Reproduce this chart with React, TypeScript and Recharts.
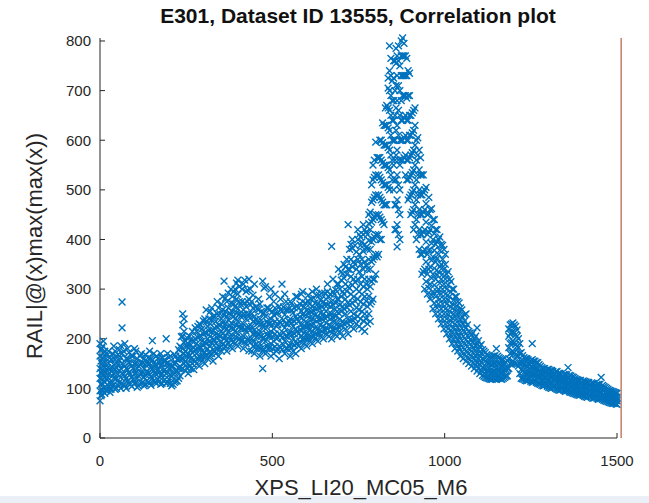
import React from 'react';
import { ScatterChart, Scatter, XAxis, YAxis, ReferenceLine } from 'recharts';

type Col = [number, number[]];

// x position, then the y values stacked at that x
const baseline: Col[] = [
  [0, [75, 95, 120, 140, 165, 190]], [3, [85, 108, 132, 155, 178]], [5, [88, 110, 130, 150, 180]],
  [8, [95, 118, 138, 162, 185]], [10, [100, 125, 145, 170, 195]], [14, [90, 112, 132, 152, 175]],
  [18, [95, 118, 138, 160]], [22, [100, 122, 142, 168]], [25, [105, 128, 150, 175]],
  [29, [92, 112, 140, 162]], [32, [98, 115, 135, 158]], [36, [104, 125, 142, 170]],
  [40, [108, 130, 148, 185]], [44, [98, 118, 138, 158, 175]], [48, [100, 120, 142, 165]],
  [52, [106, 128, 148, 168]], [56, [112, 135, 155, 178]], [60, [100, 122, 140, 162, 186]],
  [64, [110, 130, 150, 170, 222, 274]], [68, [108, 128, 148, 175]], [72, [105, 125, 145, 190]],
  [76, [100, 120, 140, 160]], [80, [115, 138, 160, 180]], [84, [110, 132, 152, 172]],
  [88, [108, 128, 150]], [92, [104, 122, 145, 165]], [96, [118, 140, 165]],
  [100, [110, 130, 150, 180]], [104, [112, 132, 152, 175]], [108, [102, 120, 140, 160]],
  [112, [105, 125, 145]], [116, [108, 128, 148, 165]], [120, [110, 130, 150, 170]],
  [124, [112, 132, 152]], [128, [105, 122, 140, 160]], [132, [108, 128, 148, 168]],
  [136, [115, 135, 155]], [140, [112, 130, 148, 162]], [144, [110, 128, 150, 175]],
  [148, [106, 124, 142, 160]], [152, [120, 140, 158, 196]], [156, [115, 135, 152, 170]],
  [160, [112, 130, 148]], [164, [110, 128, 145, 165]], [168, [118, 138, 160]],
  [172, [114, 132, 152]], [176, [108, 126, 145, 170]], [180, [110, 130, 150, 162]],
  [184, [115, 135, 155]], [188, [118, 138, 158]], [192, [110, 130, 150, 200]],
  [196, [112, 132, 150, 170]], [200, [118, 140, 162]], [204, [110, 128, 148, 165]],
  [208, [105, 125, 145]], [212, [108, 128, 145]], [216, [112, 132, 150, 168]],
  [220, [114, 134, 152, 165]], [224, [115, 135, 158]], [228, [120, 140, 160, 178]],
];

const shoulder: Col[] = [
  [232, [125, 145, 165, 185]], [236, [138, 160, 182, 204]], [240, [140, 160, 180, 205, 228, 250]],
  [244, [150, 170, 192, 215, 240]], [248, [135, 155, 175, 195]], [252, [142, 164, 184, 202]],
  [256, [130, 150, 170, 190]], [260, [145, 165, 185, 205]], [264, [140, 160, 178, 198]],
  [268, [150, 172, 195, 215]], [272, [138, 158, 182]], [276, [155, 178, 200, 222]],
  [280, [150, 170, 190, 215]], [284, [160, 180, 202, 225]], [288, [145, 165, 185, 205, 230]],
  [292, [162, 182, 206, 228]], [296, [155, 175, 195, 220]], [300, [164, 186, 210, 236]],
  [304, [150, 172, 192, 212, 240]], [308, [166, 190, 212, 234, 258]], [312, [160, 180, 200, 225]],
  [316, [172, 194, 216, 240]], [320, [165, 185, 205, 230, 255]], [324, [170, 192, 214, 238, 262]],
  [328, [155, 178, 198, 218, 245]], [332, [176, 198, 222, 246]], [336, [170, 190, 210, 235]],
  [340, [180, 202, 224, 250, 275]], [344, [165, 185, 208, 228, 262]], [348, [182, 204, 226, 250]],
  [352, [175, 195, 215, 240, 270]], [356, [188, 210, 232, 258, 285]], [360, [180, 200, 222, 248, 316]],
  [364, [185, 206, 230, 255, 282]], [368, [175, 198, 220, 245, 275]], [372, [192, 214, 238, 262, 292]],
  [376, [185, 205, 228, 252]], [380, [196, 222, 248, 272, 300]], [384, [180, 205, 230, 255, 285]],
  [388, [194, 220, 245, 270, 295]], [392, [190, 215, 240, 265, 300]], [396, [202, 228, 252, 280, 312]],
  [400, [185, 210, 235, 260, 290, 318]], [404, [200, 225, 250, 275, 305]], [408, [195, 220, 245, 270]],
  [412, [196, 222, 248, 275, 300]], [416, [180, 205, 230, 258, 310]], [420, [194, 220, 248, 272, 318]],
  [424, [190, 215, 240, 265, 295]], [428, [198, 222, 248, 275, 298]], [432, [176, 200, 225, 250, 280, 320]],
  [436, [192, 218, 242, 268, 300]], [440, [175, 200, 225, 250, 275]], [444, [185, 210, 235, 262, 288]],
  [448, [170, 195, 218, 245, 310]], [452, [188, 212, 238, 264]], [456, [180, 205, 230, 260]],
  [460, [182, 208, 232, 258, 280]], [464, [165, 190, 215, 240, 270]], [468, [180, 205, 230, 255]],
  [472, [140, 175, 200, 225, 250, 316]], [476, [178, 202, 228, 252, 302]], [480, [170, 195, 220, 245, 305]],
  [484, [186, 210, 235, 262]], [488, [180, 205, 230, 262]], [492, [182, 206, 230, 258, 285]],
  [496, [165, 190, 215, 240, 300]], [500, [180, 204, 228, 254]], [504, [170, 195, 220, 248, 275]],
  [508, [184, 210, 235, 262, 290]], [512, [175, 200, 225, 250]], [516, [178, 202, 228, 252]],
  [520, [160, 185, 210, 235, 265]], [524, [182, 208, 232, 258, 280]], [528, [178, 202, 228, 255, 310]],
  [532, [188, 212, 238, 264]], [536, [170, 195, 222, 248, 290]], [540, [180, 205, 230, 258, 275]],
  [544, [180, 205, 230, 258]], [548, [185, 210, 235, 260]], [552, [165, 190, 215, 240, 275]],
  [556, [182, 208, 232, 258, 272]], [560, [175, 200, 225, 252]], [564, [187, 210, 235, 262]],
  [568, [170, 195, 220, 245, 285]], [572, [190, 215, 240, 266, 285]], [576, [185, 210, 235, 262]],
  [580, [194, 218, 244, 270]], [584, [180, 205, 228, 255, 290]], [588, [198, 222, 248, 275, 295]],
  [592, [190, 212, 238, 265]], [596, [200, 224, 248, 272]], [600, [185, 210, 232, 258]],
  [604, [202, 226, 252, 276, 288]], [608, [195, 218, 242, 270]], [612, [204, 228, 254, 280]],
  [616, [190, 215, 240, 265, 295]], [620, [206, 230, 256, 282]], [624, [200, 222, 248, 272]],
  [628, [210, 235, 260, 288, 300]], [632, [195, 220, 245, 270]], [636, [212, 238, 262, 288]],
  [640, [205, 228, 252, 278]], [644, [215, 240, 265, 292]], [648, [200, 225, 250, 275]],
  [652, [218, 242, 268, 292]], [656, [210, 232, 255, 280]], [660, [220, 244, 268, 295, 310]],
  [664, [205, 228, 250, 285]], [668, [215, 240, 265, 290]], [672, [200, 225, 250, 275, 386]],
  [676, [218, 243, 268, 295, 320]], [680, [210, 235, 260, 290]], [684, [220, 245, 272, 298]],
  [688, [205, 230, 255, 280, 310]], [692, [224, 252, 280, 310, 340]], [696, [215, 240, 268, 300]],
  [700, [226, 255, 285, 318, 335]], [704, [205, 235, 265, 295, 330]], [708, [230, 260, 290, 322, 350]],
  [712, [220, 250, 280, 310, 345]], [716, [232, 264, 296, 330, 360]], [720, [210, 240, 272, 305, 340, 430]],
  [724, [236, 268, 302, 340, 380]], [728, [225, 255, 290, 325, 360, 390]], [732, [238, 272, 308, 345, 382, 400]],
  [736, [220, 250, 285, 320, 355]], [740, [240, 276, 314, 350, 388]], [744, [230, 262, 300, 340, 375]],
  [748, [245, 280, 320, 360, 400, 420]], [752, [225, 258, 295, 335, 370, 410]], [756, [240, 274, 310, 350, 388, 405]],
];

const peak: Col[] = [
  [760, [220, 255, 290, 325, 360, 395]], [764, [236, 270, 305, 340, 376, 410, 430]],
  [768, [215, 250, 285, 320, 355, 390, 420]], [772, [240, 276, 310, 348, 384, 415]],
  [776, [230, 265, 300, 340, 380, 410]], [780, [250, 286, 320, 360, 398, 432, 450]],
  [784, [235, 270, 305, 340, 380, 420, 455]], [788, [275, 315, 355, 395, 435, 475, 510]],
  [792, [280, 320, 360, 400, 440, 480, 520, 550]], [796, [320, 365, 405, 445, 485, 525, 560]],
  [800, [330, 370, 410, 450, 490, 530, 596]], [804, [365, 408, 448, 488, 528, 565]],
  [808, [370, 410, 450, 490, 530, 565]], [812, [400, 445, 485, 525, 565, 600]],
  [816, [400, 440, 480, 520, 560, 600]], [820, [435, 475, 515, 555, 595, 635]],
  [824, [430, 470, 510, 550, 590, 630]], [828, [470, 510, 550, 590, 630, 665]],
  [832, [470, 510, 550, 590, 630, 670]], [836, [505, 545, 585, 625, 665, 705, 725]],
  [840, [500, 540, 580, 620, 660, 700, 740, 790]], [844, [530, 570, 610, 650, 690, 730, 765]],
  [848, [520, 560, 600, 640, 680, 720]], [852, [500, 550, 600, 640, 680, 725, 760]],
  [856, [420, 470, 520, 560, 600, 650, 700, 760]], [859, [420, 470, 520, 570, 620, 665, 710, 755, 785]],
  [862, [385, 430, 480, 530, 580, 630, 680, 730, 770]], [866, [410, 460, 510, 560, 610, 660, 710, 760, 790]],
  [870, [400, 450, 500, 550, 600, 650, 700, 750]], [874, [560, 600, 640, 680, 730, 770, 800]],
  [878, [560, 600, 640, 690, 730, 770, 806]], [882, [565, 605, 645, 690, 730, 770, 795]],
  [886, [530, 570, 610, 650, 690, 730, 770]], [890, [520, 560, 600, 640, 685, 730, 765]],
  [894, [480, 520, 560, 600, 640, 690, 740]], [898, [485, 525, 565, 610, 650, 690, 735]],
  [902, [450, 490, 530, 570, 610, 650]], [906, [455, 495, 535, 575, 615, 655]],
  [910, [420, 460, 500, 540, 580, 620, 660]], [914, [430, 470, 510, 550, 590, 630, 665]],
  [918, [400, 440, 480, 520, 560, 600]], [922, [410, 450, 490, 530, 570, 605]],
  [926, [380, 420, 460, 500, 540, 580]], [930, [370, 410, 450, 490, 530, 565]],
  [934, [330, 370, 410, 450, 490, 530]], [938, [335, 375, 415, 455, 495, 530]],
  [942, [300, 340, 380, 420, 460, 500]], [946, [315, 355, 395, 435, 472, 505]],
  [950, [290, 330, 370, 410, 450]], [954, [302, 340, 378, 415, 452, 485]],
  [958, [280, 310, 345, 380, 420, 460]], [962, [288, 322, 358, 392, 428, 462]],
  [966, [260, 295, 330, 365, 400, 440]], [970, [272, 308, 342, 378, 412, 440]],
  [974, [250, 285, 320, 355, 390, 420]], [978, [262, 295, 328, 362, 395, 420]],
  [982, [240, 270, 300, 335, 370, 400]], [986, [250, 280, 312, 345, 378, 405]],
  [990, [230, 260, 290, 320, 350, 390]], [994, [240, 270, 300, 330, 360, 388]],
];

const decay: Col[] = [
  [998, [220, 250, 280, 310, 340, 380]], [1002, [230, 260, 290, 320, 350, 370]],
  [1006, [210, 240, 270, 300, 330]], [1010, [220, 248, 278, 308, 335]],
  [1014, [200, 228, 255, 285, 320]], [1018, [208, 236, 264, 294, 315]],
  [1022, [190, 215, 242, 270, 300]], [1026, [198, 223, 250, 278, 300]],
  [1030, [180, 205, 230, 258, 285]], [1034, [190, 214, 240, 266, 285]],
  [1038, [175, 198, 222, 248, 275]], [1042, [181, 205, 230, 255, 272]],
  [1046, [165, 188, 212, 238, 262]], [1050, [173, 196, 221, 245, 258]],
  [1054, [160, 182, 205, 230]], [1058, [168, 190, 214, 236, 248]],
  [1062, [155, 175, 198, 222, 250]], [1066, [162, 184, 206, 228]],
  [1070, [150, 170, 192, 215]], [1074, [158, 178, 198, 212]],
  [1078, [145, 165, 185, 208]], [1082, [152, 172, 193, 212]],
  [1086, [140, 160, 180, 200]], [1090, [147, 166, 186, 205]],
  [1094, [135, 152, 170, 190, 222]], [1098, [141, 159, 178, 196]],
  [1102, [130, 148, 165, 185]], [1106, [136, 153, 171, 188]],
  [1110, [126, 142, 160, 178]], [1114, [124, 140, 158, 175]],
  [1118, [122, 138, 155, 172]], [1122, [121, 136, 152, 168]],
  [1126, [120, 135, 150, 166]], [1130, [119, 134, 150, 164]],
  [1134, [118, 132, 148, 162]], [1138, [118, 133, 148, 163]],
  [1142, [120, 134, 150, 165]], [1146, [119, 134, 150, 166]],
  [1150, [118, 132, 148, 180]], [1154, [120, 135, 150, 165]],
  [1158, [120, 135, 150, 162]], [1162, [119, 133, 148, 160]],
  [1166, [118, 132, 146, 158]], [1170, [120, 134, 148, 158]],
  [1174, [122, 136, 150]], [1178, [124, 138, 152]],
  [1182, [125, 140, 156]], [1186, [140, 160, 182, 205, 220]],
  [1190, [150, 170, 190, 210, 228]], [1194, [152, 172, 192, 212, 230]],
  [1198, [155, 175, 195, 215, 232]], [1202, [152, 172, 192, 212, 228]],
  [1206, [150, 168, 188, 208, 225]], [1210, [148, 166, 185, 205, 218]],
  [1214, [145, 165, 182, 200]], [1218, [130, 150, 170, 190]],
  [1222, [120, 138, 155, 172]], [1226, [119, 135, 150, 166]],
  [1230, [118, 132, 148, 162]], [1234, [116, 131, 146, 160]],
  [1238, [115, 130, 145, 160]], [1242, [116, 130, 145, 158]],
  [1246, [118, 132, 148]], [1250, [114, 129, 144, 156]],
  [1254, [112, 128, 142, 158, 190]], [1258, [113, 127, 141, 155]],
  [1262, [115, 128, 140, 155]], [1266, [112, 126, 140, 152]],
  [1270, [110, 124, 138, 152]], [1274, [109, 122, 135, 148]],
];

const tail: Col[] = [
  [1278, [108, 120, 132, 145]], [1282, [106, 118, 130, 142]], [1286, [105, 118, 130, 140]],
  [1290, [106, 119, 131, 140]], [1294, [108, 120, 132]], [1298, [104, 116, 128, 138]],
  [1302, [102, 115, 128, 138]], [1306, [101, 113, 125, 136]], [1310, [100, 112, 124, 136]],
  [1314, [102, 113, 124, 134]], [1318, [104, 115, 126]], [1322, [100, 112, 123, 133]],
  [1326, [98, 110, 122, 134]], [1330, [97, 109, 120, 130]], [1334, [96, 108, 120, 130]],
  [1338, [98, 109, 120, 129]], [1342, [100, 110, 122]], [1346, [96, 107, 118, 128]],
  [1350, [94, 106, 118, 128]], [1354, [95, 106, 117, 127]], [1358, [96, 108, 120, 142]],
  [1362, [93, 104, 115, 126]], [1366, [92, 104, 115, 125]], [1370, [91, 102, 113, 123]],
  [1374, [90, 100, 112, 122]], [1378, [89, 99, 110, 120]], [1382, [88, 98, 108, 118]],
  [1386, [87, 97, 107, 117]], [1390, [86, 96, 106, 116]], [1394, [87, 97, 108, 116]],
  [1398, [88, 98, 110]], [1402, [86, 96, 106, 115]], [1406, [84, 94, 104, 114]],
  [1410, [83, 93, 103, 113]], [1414, [82, 92, 102, 112]], [1418, [84, 94, 104, 112]],
  [1422, [85, 95, 105]], [1426, [82, 92, 102, 111]], [1430, [80, 90, 100, 110]],
  [1434, [81, 91, 101, 110]], [1438, [82, 92, 102]], [1442, [80, 90, 100, 108]],
  [1446, [78, 88, 98, 108]], [1450, [79, 89, 99, 108]], [1454, [80, 90, 100, 122]],
  [1458, [78, 87, 97, 106]], [1462, [76, 85, 95, 104]], [1466, [75, 84, 93, 102]],
  [1470, [74, 83, 92, 100]], [1474, [73, 81, 90, 98]], [1478, [72, 80, 88, 96]],
  [1482, [71, 79, 87, 95]], [1486, [70, 78, 86, 94]], [1490, [70, 78, 85, 93]],
  [1494, [70, 77, 84, 92]], [1497, [69, 76, 83, 91]], [1500, [68, 75, 82, 90]],
];

const xTicks = [0, 500, 1000, 1500];
const yTicks = [0, 100, 200, 300, 400, 500, 600, 700, 800];
const markerLine = 1512;

const BLUE = '#0072BD';
const INK = '#262626';
const FONT = '"Liberation Sans", Arial, Helvetica, sans-serif';

const points = [...baseline, ...shoulder, ...peak, ...decay, ...tail]
  .flatMap(([x, ys]) => ys.map((y) => ({ x, y })));

const Cross = (props: any) => {
  const { cx, cy } = props;
  const r = 3.4;
  return (
    <path
      d={`M${cx - r},${cy - r}L${cx + r},${cy + r}M${cx - r},${cy + r}L${cx + r},${cy - r}`}
      stroke={BLUE}
      strokeWidth={1.4}
      fill="none"
    />
  );
};

export default function App() {
  return (
    <div style={{ position: 'absolute', left: 0, top: 0, width: 649, height: 503, background: '#fff', fontFamily: FONT }}>
      {/* light strip along the bottom edge of the screenshot */}
      <div style={{ position: 'absolute', left: 0, top: 496, width: 649, height: 7, background: '#eaf0f6' }} />
      <div style={{ position: 'absolute', left: 0, top: 4, width: 716, textAlign: 'center', fontSize: 21, fontWeight: 'bold', color: '#111' }}>
        E301, Dataset ID 13555, Correlation plot
      </div>
      <div style={{ position: 'absolute', left: 0, top: 0 }}>
        <ScatterChart width={649} height={503} margin={{ top: 38, right: 32, bottom: 35, left: 40 }}>
          <XAxis
            type="number"
            dataKey="x"
            domain={[0, 1500]}
            ticks={xTicks}
            tickSize={-5}
            tickMargin={22}
            stroke={INK}
            tick={{ fill: INK, fontSize: 15, fontFamily: FONT }}
            height={30}
            label={{
              content: () => (
                <text x={361} y={495} textAnchor="middle" fill={INK} fontSize={22} fontFamily={FONT}>
                  XPS_LI20_MC05_M6
                </text>
              ),
            }}
          />
          <YAxis
            type="number"
            dataKey="y"
            domain={[0, 800]}
            ticks={yTicks}
            tickSize={-5}
            tickMargin={14}
            stroke={INK}
            tick={{ fill: INK, fontSize: 15, fontFamily: FONT }}
            width={60}
            label={{
              content: () => (
                <text x={42} y={246} transform="rotate(-90 42 246)" textAnchor="middle" fill={INK} fontSize={22} fontFamily={FONT}>
                  RAIL|@(x)max(max(x))
                </text>
              ),
            }}
          />
          <ReferenceLine x={markerLine} stroke="#b85c3c" strokeWidth={1.2} ifOverflow="visible" />
          <Scatter data={points} shape={Cross} isAnimationActive={false} />
        </ScatterChart>
      </div>
    </div>
  );
}
